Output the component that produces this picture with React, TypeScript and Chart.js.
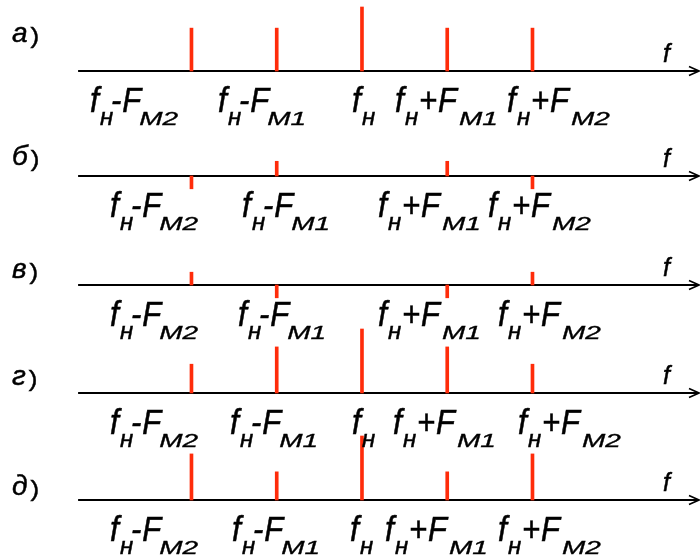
import React, { useEffect, useRef } from 'react';
import { Chart, registerables } from 'chart.js';

Chart.register(...registerables);

// Spectral components: offsets from the carrier in units of F_M1
const COMPONENTS = [-2, -1, 0, 1, 2];
const ROW_LETTERS = ['а', 'б', 'в', 'г', 'д'];

// Amplitudes relative to the carrier (carrier = 1), negative = drawn below the axis
const AMP_A = [0.67, 0.67, 1, 0.67, 0.67];
const AMP_B = [-0.2, 0.23, 0, 0.23, -0.2];
const AMP_V = [0.2, -0.2, 0, -0.2, 0.2];
const AMP_G = [0.45, 0.72, 1, 0.72, 0.45];
const AMP_D = [0.72, 0.44, 1, 0.44, 0.72];
const ROW_AMPS = [AMP_A, AMP_B, AMP_V, AMP_G, AMP_D];

// Tick labels: operator and modulation subscript for each component
const TICK_OPS = ['-', '-', '', '+', '+'];
const TICK_SUBS = ['M2', 'M1', '', 'M1', 'M2'];

// Layout
const W = 700;
const H = 556;
const PX_PER_UNIT = 64;
const ROW_AXIS_PX = [71, 176, 285, 393, 500];
const ROW_BASE = ROW_AXIS_PX.map((p) => (H - p) / PX_PER_UNIT);
const ROW_NAME_DY = [-29, -11, -7, -8, -5];
const LABEL_X: (number | null)[][] = [
  [90, 218, 352, 395, 507],
  [110, 242, null, 378, 488],
  [110, 238, null, 378, 498],
  [110, 230, 352, 393, 518],
  [110, 232, 350, 385, 498],
];
const X_MIN = -4.246;
const X_MAX = 3.965;
const AXIS_START = -3.33;
const AXIS_END = 3.953;

const FONT = "'Liberation Sans', Arial, sans-serif";
const RED = 'rgb(255, 44, 10)';

function drawPart(
  ctx: CanvasRenderingContext2D,
  text: string,
  x: number,
  y: number,
  size: number,
  sy: number,
  italic = true
) {
  ctx.save();
  ctx.font = `${italic ? 'italic ' : ''}${size}px ${FONT}`;
  ctx.translate(x, y);
  ctx.scale(1, sy);
  ctx.fillText(text, 0, 0);
  ctx.lineWidth = 0.5;
  ctx.strokeStyle = '#000';
  ctx.strokeText(text, 0, 0);
  const w = ctx.measureText(text).width;
  ctx.restore();
  return w;
}

const diagramPlugin = {
  id: 'spectrumDiagram',
  beforeDatasetsDraw(chart: any) {
    const ctx: CanvasRenderingContext2D = chart.ctx;
    const xs = chart.scales.x;
    const ys = chart.scales.y;
    ctx.save();
    ctx.strokeStyle = '#000';
    ROW_BASE.forEach((b) => {
      const y = Math.round(ys.getPixelForValue(b));
      const x0 = xs.getPixelForValue(AXIS_START);
      const x1 = xs.getPixelForValue(AXIS_END);
      ctx.lineWidth = 2;
      ctx.beginPath();
      ctx.moveTo(x0, y);
      ctx.lineTo(x1, y);
      ctx.stroke();
      ctx.lineWidth = 1.6;
      ctx.beginPath();
      ctx.moveTo(x1 - 10, y - 4.5);
      ctx.lineTo(x1, y);
      ctx.lineTo(x1 - 10, y + 4.5);
      ctx.stroke();
    });
    ctx.restore();
  },
  afterDraw(chart: any) {
    const ctx: CanvasRenderingContext2D = chart.ctx;
    const ys = chart.scales.y;
    const xs = chart.scales.x;
    ctx.save();
    ctx.fillStyle = '#000';
    ctx.textBaseline = 'alphabetic';
    ROW_BASE.forEach((b, r) => {
      const axisY = ys.getPixelForValue(b);
      // row name: italic letter and upright bracket
      const ny = axisY + ROW_NAME_DY[r];
      const lw = drawPart(ctx, ROW_LETTERS[r], 12, ny, 28, 1);
      drawPart(ctx, ')', 12 + lw + 3, ny + 1, 26, 0.85, false);
      // axis name
      drawPart(ctx, 'f', xs.getPixelForValue(AXIS_END) - 36, axisY - 9, 25, 1);
      // component labels
      const mainY = axisY + 41;
      const subY = axisY + 54;
      COMPONENTS.forEach((_, i) => {
        const lx = LABEL_X[r][i];
        if (lx === null) return;
        drawPart(ctx, 'f', lx, mainY, 32, 1.1);
        drawPart(ctx, 'н', lx + 10, subY, 24, 1);
        const op = TICK_OPS[i];
        if (!op) return;
        let cx = lx + (op === '+' ? 24 : 21);
        cx += drawPart(ctx, op, cx, mainY, 31, 1.12);
        cx += 1;
        cx += drawPart(ctx, 'F', cx, mainY, 31, 1.12);
        cx += op === '+' ? 2 : -2;
        drawPart(ctx, TICK_SUBS[i], cx, subY, 28, 0.66);
      });
    });
    ctx.restore();
  },
};

export default function App() {
  const canvasRef = useRef<HTMLCanvasElement | null>(null);

  useEffect(() => {
    if (!canvasRef.current) return;
    const datasets = ROW_AMPS.map((amps, r) => ({
      label: ROW_LETTERS[r],
      data: COMPONENTS.flatMap((x, i) =>
        amps[i] === 0 ? [] : [{ x, y: [ROW_BASE[r], ROW_BASE[r] + amps[i]] }]
      ),
      backgroundColor: RED,
      borderWidth: 0,
      barThickness: 3,
      grouped: false,
    }));
    const chart = new Chart(canvasRef.current, {
      type: 'bar',
      data: { datasets: datasets as any },
      options: {
        animation: false,
        responsive: false,
        maintainAspectRatio: false,
        layout: { padding: 0 },
        plugins: { legend: { display: false }, tooltip: { enabled: false } },
        scales: {
          x: { type: 'linear', min: X_MIN, max: X_MAX, display: false, offset: false },
          y: { type: 'linear', min: 0, max: H / PX_PER_UNIT, display: false },
        },
      },
      plugins: [diagramPlugin],
    });
    return () => chart.destroy();
  }, []);

  return (
    <div style={{ position: 'absolute', left: 0, top: 0, width: W, height: H, background: '#fff' }}>
      <canvas ref={canvasRef} width={W} height={H} />
    </div>
  );
}
